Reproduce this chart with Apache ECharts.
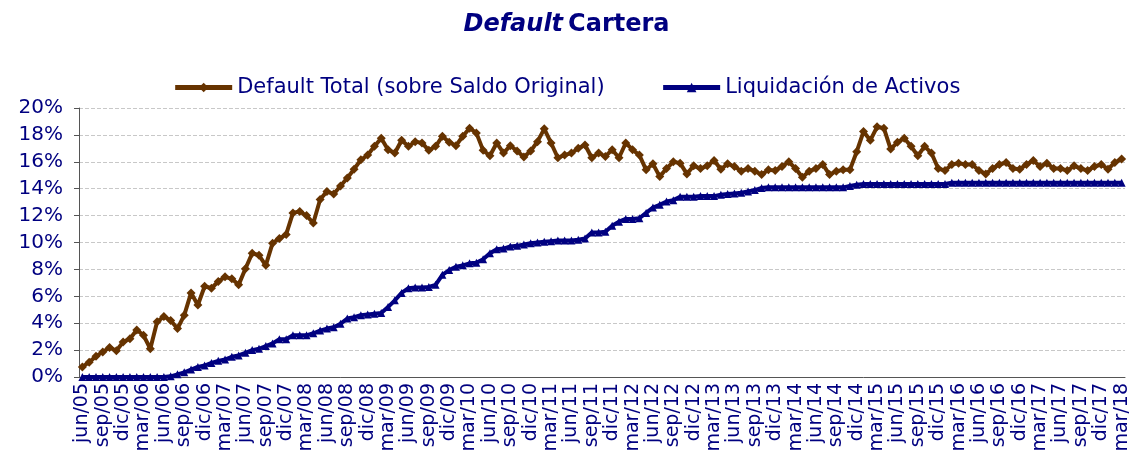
<!DOCTYPE html>
<html>
<head>
<meta charset="utf-8">
<script src="https://cdn.jsdelivr.net/npm/echarts@6/dist/echarts.min.js"></script>
<style>
  html, body { margin: 0; padding: 0; background: #fff; }
  #chart { width: 1133px; height: 467px; }
</style>
</head>
<body>
<div id="chart"></div>
<script>
// meses (jun/05 .. mar/18)
var mesesNombres = ['ene','feb','mar','abr','may','jun','jul','ago','sep','oct','nov','dic'];
var primerAnio = 2005, primerMes = 5, totalMeses = 154;
var categorias = [];
for (var k = 0; k < totalMeses; k++) {
    var m = (primerMes + k) % 12;
    var a = primerAnio + Math.floor((primerMes + k) / 12);
    categorias.push(mesesNombres[m] + '/' + String(a).slice(2));
}

// Default Total (sobre Saldo Original), en %
var defaultTotal = [
    0.75, 1.1, 1.55, 1.85, 2.2, 1.95, 2.6, 2.85, 3.5, 3.1,
    2.1, 4.1, 4.5, 4.2, 3.6, 4.6, 6.25, 5.35, 6.75, 6.6,
    7.1, 7.45, 7.3, 6.85, 8.05, 9.2, 9.05, 8.3, 9.95, 10.3,
    10.6, 12.2, 12.3, 12.0, 11.45, 13.2, 13.8, 13.6, 14.2, 14.8,
    15.45, 16.15, 16.5, 17.15, 17.75, 16.9, 16.65, 17.6, 17.15, 17.5,
    17.4, 16.85, 17.15, 17.9, 17.45, 17.2, 17.9, 18.5, 18.15, 16.85,
    16.45, 17.4, 16.65, 17.2, 16.8, 16.35, 16.8, 17.5, 18.45, 17.4,
    16.3, 16.5, 16.65, 17.0, 17.25, 16.3, 16.65, 16.4, 16.9, 16.3,
    17.4, 16.9, 16.5, 15.4, 15.85, 14.9, 15.5, 16.0, 15.9, 15.1,
    15.7, 15.5, 15.7, 16.1, 15.45, 15.85, 15.65, 15.3, 15.5, 15.3,
    15.05, 15.4, 15.35, 15.65, 16.0, 15.5, 14.85, 15.3, 15.5, 15.8,
    15.05, 15.3, 15.4, 15.4, 16.75, 18.25, 17.6, 18.6, 18.5, 16.95,
    17.45, 17.75, 17.15, 16.45, 17.15, 16.65, 15.5, 15.35, 15.8, 15.9,
    15.8, 15.8, 15.35, 15.1, 15.5, 15.8, 15.95, 15.5, 15.45, 15.8,
    16.1, 15.65, 15.9, 15.5, 15.5, 15.35, 15.7, 15.5, 15.35, 15.65,
    15.8, 15.45, 15.95, 16.2
];

// Liquidación de Activos, en %
var liquidacion = [
    0, 0, 0, 0, 0, 0, 0, 0, 0, 0,
    0, 0, 0, 0.05, 0.2, 0.35, 0.55, 0.75, 0.85, 1.05,
    1.2, 1.3, 1.5, 1.6, 1.8, 2.0, 2.1, 2.3, 2.5, 2.8,
    2.8, 3.1, 3.1, 3.1, 3.25, 3.45, 3.6, 3.7, 3.95, 4.35,
    4.45, 4.6, 4.65, 4.7, 4.75, 5.2, 5.7, 6.25, 6.6, 6.65,
    6.65, 6.7, 6.85, 7.6, 7.95, 8.2, 8.3, 8.45, 8.5, 8.75,
    9.2, 9.5, 9.55, 9.7, 9.75, 9.85, 9.95, 10.0, 10.05, 10.1,
    10.15, 10.15, 10.15, 10.2, 10.3, 10.75, 10.75, 10.8, 11.25, 11.55,
    11.75, 11.75, 11.8, 12.2, 12.6, 12.8, 13.05, 13.15, 13.4, 13.4,
    13.4, 13.45, 13.45, 13.45, 13.55, 13.6, 13.65, 13.7, 13.8, 13.9,
    14.05, 14.1, 14.1, 14.1, 14.1, 14.1, 14.1, 14.1, 14.1, 14.1,
    14.1, 14.1, 14.1, 14.2, 14.3, 14.35, 14.35, 14.35, 14.35, 14.35,
    14.35, 14.35, 14.35, 14.35, 14.35, 14.35, 14.35, 14.35, 14.45, 14.45,
    14.45, 14.45, 14.45, 14.45, 14.45, 14.45, 14.45, 14.45, 14.45, 14.45,
    14.45, 14.45, 14.45, 14.45, 14.45, 14.45, 14.45, 14.45, 14.45, 14.45,
    14.45, 14.45, 14.45, 14.45
];

var nombreDefault = 'Default Total (sobre Saldo Original)';
var nombreLiq = 'Liquidación de Activos';

var fuente = 'DejaVu Sans';
var azul = '#000080';
var marron = '#663300';

var myChart = echarts.init(document.getElementById('chart'));
var option = {
    animation: false,
    backgroundColor: '#fff',
    title: {
        text: '{i|Default} {b|Cartera}',
        left: 'center',
        top: 8,
        textStyle: {
            rich: {
                i: { fontFamily: fuente, fontSize: 24, fontWeight: 'bold', fontStyle: 'italic', color: azul },
                b: { fontFamily: fuente, fontSize: 24, fontWeight: 'bold', color: azul }
            }
        }
    },
    legend: {
        top: 72,
        left: 'center',
        itemWidth: 57,
        itemHeight: 12,
        itemGap: 56,
        lineStyle: { width: 5 },
        textStyle: { fontFamily: fuente, fontSize: 21, color: azul },
        data: [nombreDefault, nombreLiq]
    },
    grid: {
        left: 79,
        right: 8,
        top: 108,
        bottom: 90,
        containLabel: false
    },
    xAxis: {
        type: 'category',
        data: categorias,
        boundaryGap: true,
        axisLine: { lineStyle: { color: '#555', width: 1 } },
        axisTick: { interval: 2, length: 5, lineStyle: { color: '#999' } },
        axisLabel: {
            interval: 2,
            rotate: 90,
            fontFamily: fuente,
            fontSize: 19,
            color: azul,
            margin: 6
        }
    },
    yAxis: {
        type: 'value',
        min: 0,
        max: 20,
        interval: 2,
        axisLine: { show: true, lineStyle: { color: '#555', width: 1 } },
        axisTick: { show: true, length: 5, lineStyle: { color: '#555' } },
        axisLabel: {
            formatter: '{value}%',
            fontFamily: fuente,
            fontSize: 20,
            color: azul,
            margin: 16
        },
        splitLine: { lineStyle: { color: '#c8c8c8', type: 'dashed', width: 1 } }
    },
    series: [
        {
            name: nombreDefault,
            type: 'line',
            data: defaultTotal,
            symbol: 'diamond',
            symbolSize: 9,
            showAllSymbol: true,
            lineStyle: { color: marron, width: 4 },
            itemStyle: { color: marron },
            z: 3
        },
        {
            name: nombreLiq,
            type: 'line',
            data: liquidacion,
            symbol: 'triangle',
            symbolSize: 8,
            showAllSymbol: true,
            lineStyle: { color: azul, width: 4 },
            itemStyle: { color: azul },
            z: 2
        }
    ]
};
myChart.setOption(option);
</script>
</body>
</html>
